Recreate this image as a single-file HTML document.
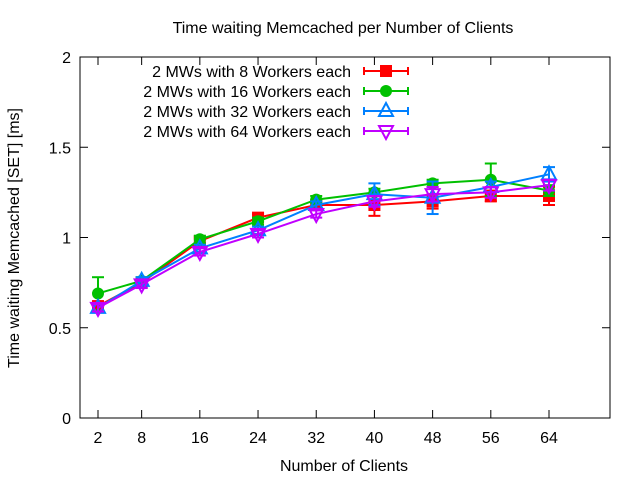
<!DOCTYPE html>
<html><head><meta charset="utf-8"><style>
body{margin:0;background:#fff}
svg{display:block;font-family:"Liberation Sans",sans-serif}
</style></head><body>
<svg id="chart" width="640" height="480" viewBox="0 0 640 480">
<rect width="640" height="480" fill="#fff"/>
<text x="343" y="33" font-size="16" text-anchor="middle">Time waiting Memcached per Number of Clients</text>
<text x="344" y="471" font-size="16" text-anchor="middle">Number of Clients</text>
<text transform="translate(19,238) rotate(-90)" font-size="16" text-anchor="middle">Time waiting Memcached [SET] [ms]</text>
<g id="axes"></g>
<g id="series"></g>
<g id="legend"></g>
</svg>
<script>
const categories = [2, 8, 16, 24, 32, 40, 48, 56, 64];
const yTicks = [0, 0.5, 1, 1.5, 2];
const yTickLabels = ["0", "0.5", "1", "1.5", "2"];
const seriesNames = ["2 MWs with 8 Workers each", "2 MWs with 16 Workers each", "2 MWs with 32 Workers each", "2 MWs with 64 Workers each"];
const red = [0.62, 0.75, 0.98, 1.11, 1.18, 1.18, 1.20, 1.23, 1.23];
const green = [0.69, 0.76, 0.99, 1.09, 1.21, 1.25, 1.30, 1.32, 1.26];
const blue = [0.61, 0.76, 0.94, 1.04, 1.18, 1.24, 1.22, 1.28, 1.35];
const purple = [0.61, 0.74, 0.92, 1.02, 1.13, 1.20, 1.24, 1.25, 1.29];
const redErr = [0.02, 0.02, 0.02, 0.02, 0.02, 0.06, 0.04, 0.03, 0.05];
const greenErr = [0.09, 0.02, 0.02, 0.02, 0.02, 0.02, 0.02, 0.09, 0.03];
const blueErr = [0.02, 0.02, 0.02, 0.02, 0.02, 0.06, 0.09, 0.03, 0.04];
const purpleErr = [0.02, 0.02, 0.02, 0.02, 0.02, 0.03, 0.04, 0.03, 0.03];

const NS = "http://www.w3.org/2000/svg";
const L = 80, R = 610, T = 57, B = 418;
const xv = v => 98 + (v - 2) * (451 / 62);
const yv = v => B - (v / 2) * (B - T);
function mk(tag, attrs, parent) {
  const e = document.createElementNS(NS, tag);
  for (const k in attrs) e.setAttribute(k, attrs[k]);
  parent.appendChild(e);
  return e;
}
const axes = document.getElementById("axes");
const frame = mk("rect", {x: L, y: T, width: R - L, height: B - T, fill: "none", stroke: "#000", "stroke-width": 1}, axes);


yTicks.forEach((t, i) => {
  const y = yv(t);
  mk("line", {x1: L, x2: L + 8, y1: y, y2: y, stroke: "#000"}, axes);
  mk("line", {x1: R, x2: R - 8, y1: y, y2: y, stroke: "#000"}, axes);
  const tx = mk("text", {x: L - 9, y: y + 6, "font-size": 16, "text-anchor": "end"}, axes);
  tx.textContent = yTickLabels[i];
  
  
});
categories.forEach(c => {
  const x = xv(c);
  mk("line", {x1: x, x2: x, y1: B, y2: B - 8, stroke: "#000"}, axes);
  mk("line", {x1: x, x2: x, y1: T, y2: T + 8, stroke: "#000"}, axes);
  const tx = mk("text", {x: x, y: B + 25, "font-size": 16, "text-anchor": "middle"}, axes);
  tx.textContent = c;
  
  
});

const colors = ["#ff0000", "#00c000", "#0080ff", "#c000ff"];
const data = [red, green, blue, purple];
const errs = [redErr, greenErr, blueErr, purpleErr];
function marker(k, x, y, g) {
  const c = colors[k];
  if (k === 0) mk("rect", {x: x - 6, y: y - 6, width: 12, height: 12, fill: c}, g);
  else if (k === 1) mk("circle", {cx: x, cy: y, r: 6, fill: c}, g);
  else if (k === 2) mk("polygon", {points: `${x},${y-8} ${x+7},${y+5} ${x-7},${y+5}`, fill: "none", stroke: c, "stroke-width": 2}, g);
  else mk("polygon", {points: `${x},${y+8} ${x+7},${y-5} ${x-7},${y-5}`, fill: "none", stroke: c, "stroke-width": 2}, g);
}
const sg = document.getElementById("series");
data.forEach((vals, k) => {
  const g = mk("g", {}, sg);
  
  
  const pts = vals.map((v, i) => xv(categories[i]) + "," + yv(v)).join(" ");
  mk("polyline", {points: pts, fill: "none", stroke: colors[k], "stroke-width": 2}, g);
  vals.forEach((v, i) => {
    const x = xv(categories[i]), e = errs[k][i];
    const y1 = yv(v + e), y2 = yv(v - e);
    mk("line", {x1: x, x2: x, y1: y1, y2: y2, stroke: colors[k], "stroke-width": 2}, g);
    mk("line", {x1: x - 6, x2: x + 6, y1: y1, y2: y1, stroke: colors[k], "stroke-width": 2}, g);
    mk("line", {x1: x - 6, x2: x + 6, y1: y2, y2: y2, stroke: colors[k], "stroke-width": 2}, g);
    marker(k, x, yv(v), g);
  });
});
const lg = document.getElementById("legend");
seriesNames.forEach((n, k) => {
  const y = 71 + k * 20;
  const g = mk("g", {}, lg);
  
  
  const tx = mk("text", {x: 351, y: y + 6, "font-size": 16, "text-anchor": "end"}, g);
  tx.textContent = n;
  mk("line", {x1: 364, x2: 408, y1: y, y2: y, stroke: colors[k], "stroke-width": 2}, g);
  mk("line", {x1: 364, x2: 364, y1: y - 4, y2: y + 4, stroke: colors[k], "stroke-width": 2}, g);
  mk("line", {x1: 408, x2: 408, y1: y - 4, y2: y + 4, stroke: colors[k], "stroke-width": 2}, g);
  marker(k, 386, y, g);
});
</script>
</body></html>
